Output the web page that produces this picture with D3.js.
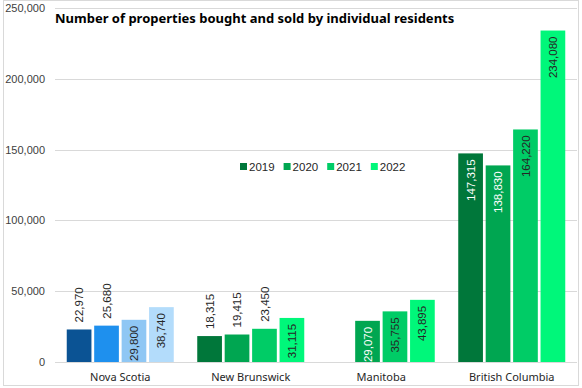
<!DOCTYPE html>
<html><head><meta charset="utf-8">
<script src="https://cdn.jsdelivr.net/npm/d3@7"></script>
<style>body{margin:0;background:#fff}</style>
</head><body>
<svg id="c" width="582" height="388"></svg>
<script>
const categories = ["Nova Scotia", "New Brunswick", "Manitoba", "British Columbia"];
const years = ["2019", "2020", "2021", "2022"];
const values = {
  "Nova Scotia":      [22970, 25680, 29800, 38740],
  "New Brunswick":    [18315, 19415, 23450, 31115],
  "Manitoba":         [null, 29070, 35755, 43895],
  "British Columbia": [147315, 138830, 164220, 234080]
};
const yTicks = [0, 50000, 100000, 150000, 200000, 250000];
const blues = ["#0b5394", "#1e90ee", "#8fc7f4", "#b3dcfb"];
const greens = ["#00773a", "#00a651", "#00cc66", "#00f77a"];
const whiteLabel = [true, true, false, false];

const svg = d3.select("#c");
svg.append("rect").attr("x", 3.5).attr("y", 0.5).attr("width", 575).attr("height", 385)
  .attr("fill", "#fff").attr("stroke", "#d9d9d9");

const y = d3.scaleLinear().domain([0, 250000]).range([362, 8]);
const x0 = d3.scaleBand().domain(categories).range([55, 577]).paddingInner(0.18).paddingOuter(0.09);
const x1 = d3.scaleBand().domain(years).range([0, x0.bandwidth()]).paddingInner(0.1);

// grid
svg.append("g").selectAll("line").data(yTicks).join("line")
  .attr("x1", 55).attr("x2", 577).attr("y1", d => Math.round(y(d)) + 0.5).attr("y2", d => Math.round(y(d)) + 0.5)
  .attr("stroke", "#d9d9d9");
const fmt = d3.format(",");
svg.append("g").selectAll("text").data(yTicks).join("text")
  .attr("x", 45).attr("y", d => y(d) + 4).attr("text-anchor", "end")
  .attr("font-family", "Liberation Sans, Arial, sans-serif").attr("font-size", 11).attr("fill", "#404040")
  .text(d => fmt(d));

// bars
const data = [];
categories.forEach(c => values[c].forEach((v, i) => { if (v != null) data.push({c, i, v}); }));
const g = svg.append("g");
g.selectAll("rect").data(data).join("rect")
  .attr("x", d => x0(d.c) + x1(years[d.i]))
  .attr("width", x1.bandwidth())
  .attr("y", d => y(d.v))
  .attr("height", d => y(0) - y(d.v))
  .attr("fill", d => (d.c === "Nova Scotia" ? blues : greens)[d.i]);

g.selectAll("text").data(data).join("text")
  .each(function(d) {
    const cx = x0(d.c) + x1(years[d.i]) + x1.bandwidth() / 2;
    const h = y(0) - y(d.v);
    const inside = h > 40;
    const top = y(d.v);
    d3.select(this)
      .attr("transform", `translate(${cx},${inside ? top + 6 : top - 7}) rotate(-90)`)
      .attr("text-anchor", inside ? "end" : "start")
      .attr("dy", "0.35em")
      .attr("font-family", "Liberation Sans, Arial, sans-serif").attr("font-size", 11.5)
      .attr("fill", inside && whiteLabel[d.i] && d.c !== "Nova Scotia" ? "#fff" : "#262626")
      .text(fmt(d.v));
  });

// category labels
svg.append("g").selectAll("text").data(categories).join("text")
  .attr("x", d => x0(d) + x0.bandwidth() / 2).attr("y", 381).attr("text-anchor", "middle")
  .attr("font-family", "Noto Sans, sans-serif").attr("font-size", 11).attr("fill", "#262626")
  .text(d => d);

// title
svg.append("text").attr("x", 55).attr("y", 23)
  .attr("font-family", "Noto Sans, sans-serif").attr("font-weight", "bold").attr("font-size", 13).attr("fill", "#000")
  .text("Number of properties bought and sold by individual residents");

// legend
const lg = svg.append("g").selectAll("g").data(years).join("g")
  .attr("transform", (d, i) => `translate(${240 + i * 43.6},163)`);
lg.append("rect").attr("width", 7).attr("height", 7).attr("fill", (d, i) => greens[i]);
lg.append("text").attr("x", 9).attr("y", 7.5)
  .attr("font-family", "Liberation Sans, Arial, sans-serif").attr("font-size", 11.5).attr("fill", "#262626")
  .text(d => d);
</script>
</body></html>
